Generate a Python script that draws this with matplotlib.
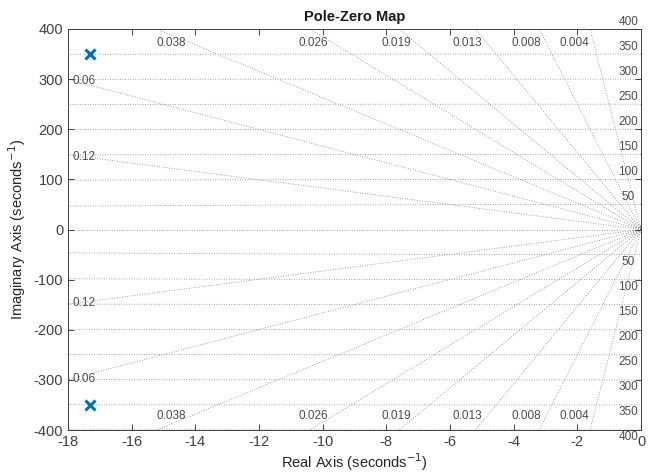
import numpy as np
import matplotlib
matplotlib.use("Agg")
import matplotlib.pyplot as plt

plt.rcParams['font.family'] = ['Liberation Sans', 'DejaVu Sans']
plt.rcParams['axes.unicode_minus'] = False

# data
pole_real = [-17.3, -17.3]
pole_imag = [350, -350]
zeta_vals = [0.004, 0.008, 0.013, 0.019, 0.026, 0.038, 0.06, 0.12]
wn_vals = [50, 100, 150, 200, 250, 300, 350, 400]
top_zeta_labels = ["0.038", "0.026", "0.019", "0.013", "0.008", "0.004"]
top_zeta_label_vals = [0.038, 0.026, 0.019, 0.013, 0.008, 0.004]
left_zeta_labels = ["0.06", "0.12"]
left_zeta_label_vals = [0.06, 0.12]
xticks = list(range(-18, 1, 2))
yticks = list(range(-400, 401, 100))

axc = '#262626'
gridc = '#858585'
labc = '#4d4d4d'

fig = plt.figure(figsize=(6.54, 4.75), dpi=100)
ax = fig.add_axes([68/654, 45/475, (641-68)/654, (430-29)/475])

ax.set_xlim(-18, 0)
ax.set_ylim(-400, 400)

# damping rays
R = 2000
for z in zeta_vals:
    s = np.sqrt(1 - z**2)
    for sign in (1, -1):
        ax.plot([0, -z*R], [0, sign*s*R], ls=(0, (1, 2)), color=gridc, lw=0.6, zorder=1)
ax.plot([-R, 0], [0, 0], ls=(0, (1, 2)), color=gridc, lw=0.6, zorder=1)

# natural frequency arcs
th = np.linspace(np.pi/2, 3*np.pi/2, 4000)
for wn in wn_vals:
    ax.plot(wn*np.cos(th), wn*np.sin(th), ls=(0, (1, 2)), color=gridc, lw=0.6, zorder=1)

# wn labels
for wn in wn_vals:
    ax.text(-0.4, wn + 2, str(wn), ha='center', va='bottom', fontsize=8.5, color=labc, clip_on=False)
    ax.text(-0.4, -wn - 2, str(wn), ha='center', va='top', fontsize=8.5, color=labc, clip_on=False)
ax.text(-0.05, 0, "0", ha='left', va='center', fontsize=8.5, color=labc, clip_on=True)

# zeta labels top/bottom
ylab = 372
for lab, z in zip(top_zeta_labels, top_zeta_label_vals):
    slope = np.sqrt(1 - z**2) / z
    xr = -ylab / slope
    ax.text(xr - 0.15, ylab, lab, ha='right', va='center', fontsize=8.5, color=labc)
    ax.text(xr - 0.15, -ylab, lab, ha='right', va='center', fontsize=8.5, color=labc)

# zeta labels left
for lab, z in zip(left_zeta_labels, left_zeta_label_vals):
    slope = np.sqrt(1 - z**2) / z
    yl = 18 * slope
    ax.text(-17.85, yl - 4, lab, ha='left', va='center', fontsize=8.5, color=labc)
    ax.text(-17.85, -yl + 2, lab, ha='left', va='center', fontsize=8.5, color=labc)

# poles
ax.plot(pole_real, pole_imag, ls='none', marker='x', ms=7, mew=2.2, color='#0072BD', zorder=5)

ax.set_xticks(xticks)
ax.set_yticks(yticks)
ax.tick_params(direction='in', top=True, right=True, length=4, width=0.6,
               labelsize=10.5, colors=axc, labelcolor='#404040')
for sp in ax.spines.values():
    sp.set_color('#404040')
    sp.set_linewidth(0.7)

ax.set_title("Pole-Zero Map", fontsize=10.5, fontweight='bold', color='#1a1a1a', pad=6)
ax.set_xlabel("Real Axis (seconds$^{-1}$)", fontsize=10.5, color=axc, labelpad=2)
ax.set_ylabel("Imaginary Axis (seconds$^{-1}$)", fontsize=10.5, color=axc, labelpad=4)

fig.savefig("out.png", dpi=100)
